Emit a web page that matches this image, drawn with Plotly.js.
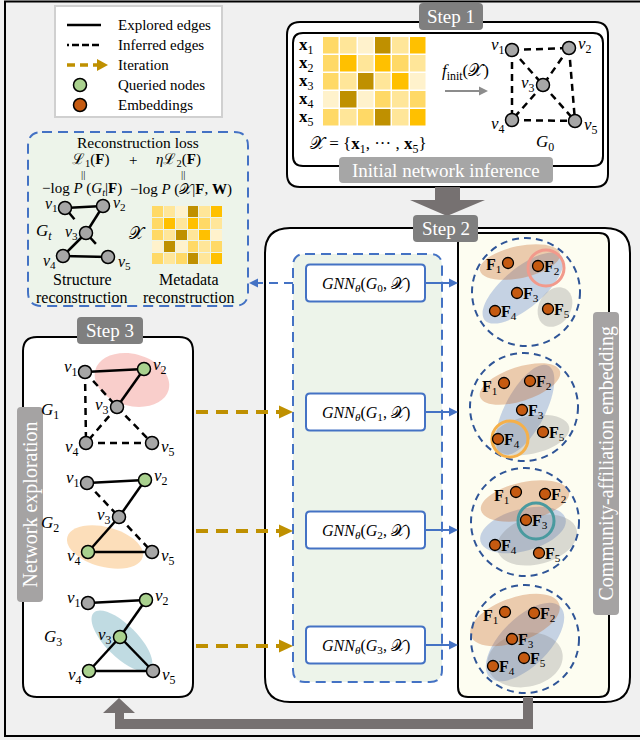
<!DOCTYPE html>
<html><head><meta charset="utf-8">
<script src="https://cdn.plot.ly/plotly-3.0.1.min.js"></script>
<style>html,body{margin:0;padding:0;background:#f0f0f0;}#chart{width:640px;height:740px;}</style>
</head><body><div id="chart"></div>
<script>
// ================= DATA =================
const legendLabels = ['Explored edges', 'Inferred edges', 'Iteration', 'Queried nodes', 'Embeddings'];
const stepLabels = ['Step 1', 'Step 2', 'Step 3'];
const panelLabels = ['Initial network inference', 'Community-affiliation embedding', 'Network exploration'];
const featureRows = ['1', '2', '3', '4', '5'];
// metadata matrix, intensity level 0 (palest) .. 4 (darkest)
const featureLevels = [
  [2, 1, 0, 4, 1, 3],
  [2, 3, 1, 3, 2, 1],
  [2, 1, 4, 1, 3, 0],
  [0, 4, 0, 2, 1, 2],
  [2, 1, 2, 4, 1, 3]
];
const nodeIds = ['1', '2', '3', '4', '5'];
// edges as node-index pairs
const g0Inferred = [[0,1],[0,3],[1,4],[3,4],[0,2],[1,2],[2,3],[2,4]];
const g1Explored = [[0,1],[1,2]];
const g1Inferred = [[0,3],[0,2],[2,3],[2,4],[3,4]];
const g2Explored = [[0,1],[1,2],[2,3],[3,4]];
const g2Inferred = [[0,2],[2,4]];
const g3Explored = [[0,1],[1,2],[2,3],[3,4],[2,4]];
const gtExplored = [[0,1],[1,2],[2,3],[3,4]];
const gtPartial = [[0,2],[2,4]];
const g1Queried = [1];
const g2Queried = [1, 3];
const g3Queried = [1, 2, 3];
const gnnGraphs = ['0', '1', '2', '3'];
const embIds = ['1', '2', '3', '4', '5'];

// ================= LAYOUT (positions / styles) =================
const SERIF = 'Liberation Serif, Times New Roman, serif';
const C = {gray:'#a6a6a6', green:'#a9d18e', orange:'#c55a11', blue:'#4472c4', dblue:'#2f5597',
  gold:'#bf9000', dark:'#7f7f7f', arrowGray:'#767171', panel:'#fdfdf1', mint:'#edf4ea'};
const levelColors = ['#fff2cc', '#ffe699', '#ffd966', '#ffc000', '#bf9000'];

const posG0 = [[512,50],[569,48],[543,85],[512,120],[575,121]];
const posGt = [[65,208],[103,206],[86,233],[63,256],[108,257]];
const posG1 = [[85,372],[144,369],[117,407],[86,443],[152,443]];
const posG2 = [[87,483],[145,480],[119,517],[88,552],[152,552]];
const posG3 = [[88,603],[146,600],[120,637],[89,671],[153,671]];
const vLabelOff = [[-14,-4],[16,-3],[-15,-1],[-14,5],[16,5]];

const gnnY = [283, 412, 530, 645];
const embCircles = [[526,292],[524,407],[525,522],[525,639]];
const embPos = [
  [[508,263],[538,266],[517,293],[495,311],[548,309]],
  [[504,383],[530,381],[522,410],[498,439],[543,432]],
  [[516,492],[545,494],[526,520],[495,545],[539,553]],
  [[505,612],[534,613],[512,639],[493,666],[524,658]]
];
const embEllipses = [
  [[523,288,50,20,-40,'b'],[555,307,16,21,30,'g'],[520,262,41,16,-12,'o']],
  [[525,410,50,20,-62,'b'],[530,435,40,19,-12,'g'],[520,384,42,17,-18,'o']],
  [[523,530,44,21,-15,'b'],[537,540,41,24,-15,'g'],[525,501,45,19,-12,'o']],
  [[525,642,50,24,-45,'b'],[525,660,38,27,-10,'g'],[515,620,47,22,-20,'o']]
];
const ellColors = {o:'rgba(197,90,17,0.30)', b:'rgba(68,114,196,0.30)', g:'rgba(127,127,127,0.28)'};
const rings = [[546,268,'#f29a8c'],[510,439,'#f5b04a'],[536,521,'#4a9a9f']];

const shapes = [], annotations = [], traces = [];

function rrect(x0,y0,x1,y1,r){
  return `M${x0+r},${y0} L${x1-r},${y0} Q${x1},${y0} ${x1},${y0+r} L${x1},${y1-r} Q${x1},${y1} ${x1-r},${y1} L${x0+r},${y1} Q${x0},${y1} ${x0},${y1-r} L${x0},${y0+r} Q${x0},${y0} ${x0+r},${y0} Z`;
}
function box(x0,y0,x1,y1,r,fill,lc,lw,dash){
  shapes.push({type:'path',path:rrect(x0,y0,x1,y1,r),fillcolor:fill,line:{color:lc||'rgba(0,0,0,0)',width:lw||0,dash:dash||'solid'},layer:'below',xref:'x',yref:'y'});
}
function ellipsePath(cx,cy,rx,ry,deg){
  const a = deg*Math.PI/180, ca = Math.cos(a), sa = Math.sin(a), k = 0.5523;
  const p = (u,v) => (cx + u*ca - v*sa).toFixed(2) + ',' + (cy + u*sa + v*ca).toFixed(2);
  return 'M'+p(rx,0)+' C'+p(rx,k*ry)+' '+p(k*rx,ry)+' '+p(0,ry)+
    ' C'+p(-k*rx,ry)+' '+p(-rx,k*ry)+' '+p(-rx,0)+
    ' C'+p(-rx,-k*ry)+' '+p(-k*rx,-ry)+' '+p(0,-ry)+
    ' C'+p(k*rx,-ry)+' '+p(rx,-k*ry)+' '+p(rx,0)+' Z';
}
function ell(cx,cy,rx,ry,deg,fill){
  shapes.push({type:'path',path:ellipsePath(cx,cy,rx,ry,deg),fillcolor:fill,line:{width:0},layer:'below'});
}
function circ(cx,cy,r,lc,lw,dash,fill){
  shapes.push({type:'circle',x0:cx-r,x1:cx+r,y0:cy-r,y1:cy+r,fillcolor:fill||'rgba(0,0,0,0)',line:{color:lc,width:lw,dash:dash||'solid'},layer:'below'});
}
function hArrow(x0,x1,y,color,w,headLen,headHalf,dash){
  const dir = Math.sign(x1-x0), xb = x1 - dir*headLen;
  shapes.push({type:'line',x0:x0,x1:xb+dir,y0:y,y1:y,line:{color:color,width:w,dash:dash||'solid'},layer:'below'});
  shapes.push({type:'path',path:`M${xb},${y-headHalf} L${x1},${y} L${xb},${y+headHalf} Z`,fillcolor:color,line:{width:0},layer:'below'});
}
function txt(x,y,text,size,opts){
  annotations.push(Object.assign({x:x,y:y,xref:'x',yref:'y',text:text,showarrow:false,borderpad:0,
    font:{family:SERIF,size:size,color:'#000'},xanchor:'center',yanchor:'middle'},opts||{}));
}
function label(x0,y0,x1,y1,fill,text,size,angle){
  box(x0,y0,x1,y1,4,fill);
  txt((x0+x1)/2,(y0+y1)/2,text,size,{font:{family:SERIF,size:size,color:'#fff'},textangle:angle||0});
}
function edgeTrace(pos,edges,dash,frac){
  const xs=[], ys=[];
  edges.forEach(([a,b])=>{
    const f = frac||1;
    xs.push(pos[a][0], pos[a][0]+(pos[b][0]-pos[a][0])*f, null);
    ys.push(pos[a][1], pos[a][1]+(pos[b][1]-pos[a][1])*f, null);
  });
  traces.push({type:'scatter',mode:'lines',x:xs,y:ys,line:{color:'#000',width:2.5,dash:dash},hoverinfo:'skip',cliponaxis:false});
}
function nodeTrace(pos,queried,size){
  traces.push({type:'scatter',mode:'markers',x:pos.map(p=>p[0]),y:pos.map(p=>p[1]),
    marker:{size:size||13,color:pos.map((p,i)=>queried.includes(i)?C.green:C.gray),line:{color:'#000',width:1.5}},
    hoverinfo:'skip',cliponaxis:false});
}
function vLabels(pos,size){
  pos.forEach((p,i)=>txt(p[0]+vLabelOff[i][0],p[1]+vLabelOff[i][1],`<i>v</i><sub>${nodeIds[i]}</sub>`,size||17));
}
const XS = '𝒳';

// ---- outer frame ----
shapes.push({type:'rect',x0:5,x1:660,y0:1.5,y1:736,line:{color:'#000',width:2},fillcolor:'rgba(0,0,0,0)',layer:'below'});

// ---- legend ----
box(55,6,222,117,0,'#ffffff','#d0d0d0',2);
shapes.push({type:'line',x0:67,x1:101,y0:25,y1:25,line:{color:'#000',width:2.5},layer:'below'});
shapes.push({type:'line',x0:67,x1:101,y0:45,y1:45,line:{color:'#000',width:2.5,dash:'2px,3px,7px,3px,7px,3px,7px,3px'},layer:'below'});
hArrow(67,108,65,C.gold,3.5,11,6,'8px,5px');
legendLabels.forEach((t,i)=>txt(117,25+20*i,t,15,{xanchor:'left'}));
traces.push({type:'scatter',mode:'markers',x:[80,80],y:[85,105],marker:{size:13,color:[C.green,C.orange],line:{color:'#000',width:1.5}},hoverinfo:'skip',cliponaxis:false});

// ---- Step 1 ----
box(287,22,608,187,13,'#ffffff','#000',2);
box(293,33,603,166,10,'#ffffff','#000',2);
featureRows.forEach((r,i)=>txt(306,46+18*i,`<b>x</b><sub>${r}</sub>`,17));
txt(368,145,`${XS} = {<b>x</b><sub>1</sub>, ··· , <b>x</b><sub>5</sub>}`,17);
txt(465,72,`<i>f</i><sub>init</sub>(${XS})`,17);
hArrow(445,488,91,'#8c8c8c',2,9,4.5);
vLabels(posG0);
txt(545,143,'<i>G</i><sub>0</sub>',17);

// big down arrow
shapes.push({type:'path',path:'M435,187 L460,187 L460,200 L485,200 L447,216 L410,200 L435,200 Z',fillcolor:C.arrowGray,line:{width:0},layer:'below'});

// ---- Step 2 ----
box(265,228,630,702,25,'#ffffff','#000',2);
box(293,254,442,682,12,C.mint,C.blue,2,'10px,6px');
box(458,233,609,697,10,C.panel,'#000',2);
embEllipses.forEach(g=>g.forEach(e=>ell(e[0],e[1],e[2],e[3],e[4],ellColors[e[5]])));
embCircles.forEach(c=>circ(c[0],c[1],54,C.dblue,2,'7px,5px'));
rings.forEach(r=>circ(r[0],r[1],18,r[2],3));
gnnY.forEach((y,i)=>{
  box(306,y-18.5,425,y+18.5,4,'#ffffff',C.blue,2);
  txt(366,y+1,`<i>GNN</i><sub><i>θ</i></sub>(<i>G</i><sub>${gnnGraphs[i]}</sub>, ${XS})`,16);
  hArrow(425,458,y,C.blue,2,9,4.5);
});
embPos.forEach((g,gi)=>{
  traces.push({type:'scatter',mode:'markers',x:g.map(p=>p[0]),y:g.map(p=>p[1]),
    marker:{size:11,color:C.orange,line:{color:'#000',width:1.3}},hoverinfo:'skip',cliponaxis:false});
  g.forEach((p,i)=>{
    const t = `<b>F</b><sub>${embIds[i]}</sub>`;
    if(i===0) txt(p[0]-6,p[1]+(gi?4:2),t,16,{xanchor:'right'});
    else txt(p[0]+5,p[1]+1,t,16,{xanchor:'left'});
  });
});

// ---- reconstruction panel ----
box(28,132,248,306,14,C.mint,C.blue,2,'10px,6px');
hArrow(293,249,283,C.blue,2,9,4.5,'9px,6px');
txt(138,142,'Reconstruction loss',15.5);
txt(90,160,'ℒ<sub>1</sub>(<b>F</b>)',15);
txt(133,160,'+',15);
txt(178,160,'<i>η</i>ℒ<sub>2</sub>(<b>F</b>)',15);
txt(83,174,'||',11);
txt(183,174,'||',11);
txt(123,189,'−log <i>P</i> (<i>G</i><sub><i>t</i></sub>|<b>F</b>)',15,{xanchor:'right'});
txt(129,189,`−log <i>P</i> (${XS}|<b>F</b>, <b>W</b>)`,15,{xanchor:'left'});
vLabels(posGt,16);
txt(44,232,'<i>G</i><sub><i>t</i></sub>',17);
txt(137,233,XS,17);
txt(82,279,'Structure',16);
txt(82,297,'reconstruction',16);
txt(189,279,'Metadata',16);
txt(189,297,'reconstruction',16);

// ---- Step 3 ----
box(23,337,193,697,14,'#ffffff','#000',2);
ell(132,380,38,26,15,'rgba(244,166,160,0.55)');
ell(105,547,39,20,15,'rgba(250,200,140,0.6)');
ell(122,641,40,16,45,'rgba(90,160,180,0.38)');
vLabels(posG1); vLabels(posG2); vLabels(posG3);
txt(50,411,'<i>G</i><sub>1</sub>',17);
txt(50,524,'<i>G</i><sub>2</sub>',17);
txt(53,638,'<i>G</i><sub>3</sub>',17);
[412,531,646].forEach(y=>hArrow(196,293,y,C.gold,4,14,6.5,'12px,8px'));

// return arrow
shapes.push({type:'path',path:'M533,697 L533,729 L115,729 L115,713 L103,713 L119,698 L135,713 L124,713 L124,719 L523,719 L523,697 Z',fillcolor:C.arrowGray,line:{width:0},layer:'below'});

// ---- grey labels ----
label(419,3,483,30,C.dark,stepLabels[0],19);
label(413,215,478,242,C.dark,stepLabels[1],19);
label(77,317,143,344,C.dark,stepLabels[2],19);
label(339,157,553,183,'#a6a6a6',panelLabels[0],19);
label(593,312,619,615,'#a5a3a3',panelLabels[1],20,-90);
label(17,407,43,602,'#a5a3a3',panelLabels[2],20,-90);

// ---- graphs ----
edgeTrace(posG0,g0Inferred,'7px,5px'); nodeTrace(posG0,[]);
edgeTrace(posGt,gtExplored,'solid'); edgeTrace(posGt,gtPartial,'solid',0.45); nodeTrace(posGt,[]);
edgeTrace(posG1,g1Explored,'solid'); edgeTrace(posG1,g1Inferred,'7px,5px'); nodeTrace(posG1,g1Queried);
edgeTrace(posG2,g2Explored,'solid'); edgeTrace(posG2,g2Inferred,'7px,5px'); nodeTrace(posG2,g2Queried);
edgeTrace(posG3,g3Explored,'solid'); nodeTrace(posG3,g3Queried);

// ---- heatmaps ----
const hmScale = levelColors.map((c,i)=>[i/(levelColors.length-1),c]);
traces.push({type:'heatmap',z:featureLevels,xaxis:'x2',yaxis:'y2',zmin:0,zmax:4,colorscale:hmScale,showscale:false,xgap:1.5,ygap:1.5,hoverinfo:'skip'});
traces.push({type:'heatmap',z:featureLevels,xaxis:'x3',yaxis:'y3',zmin:0,zmax:4,colorscale:hmScale,showscale:false,xgap:1,ygap:1,hoverinfo:'skip'});

const W=640,H=740;
const layout = {
  width:W,height:H,margin:{l:0,r:0,t:0,b:0,pad:0},paper_bgcolor:'#f0f0f0',plot_bgcolor:'rgba(0,0,0,0)',
  showlegend:false,font:{family:SERIF},
  xaxis:{range:[0,W],visible:false,domain:[0,1]},
  yaxis:{range:[H,0],visible:false,domain:[0,1]},
  xaxis2:{domain:[323/W,427/W],range:[-0.5,5.5],visible:false,anchor:'y2'},
  yaxis2:{domain:[1-127/H,1-37/H],range:[4.5,-0.5],visible:false,anchor:'x2'},
  xaxis3:{domain:[152/W,223/W],range:[-0.5,5.5],visible:false,anchor:'y3'},
  yaxis3:{domain:[1-265/H,1-206/H],range:[4.5,-0.5],visible:false,anchor:'x3'},
  shapes:shapes,annotations:annotations
};
Plotly.newPlot('chart',traces,layout,{staticPlot:true,displayModeBar:false});
</script></body></html>
